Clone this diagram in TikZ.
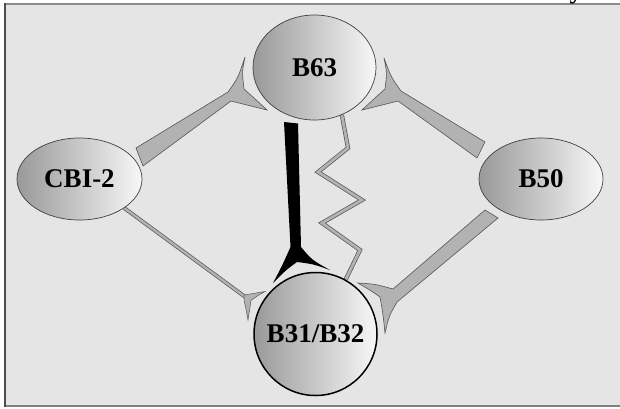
\documentclass[tikz,border=0pt]{standalone}
\usepackage{fontspec}
\setmainfont{Liberation Serif}
\usetikzlibrary{shapes.geometric,backgrounds}
\definecolor{panel}{RGB}{229,229,229}
\definecolor{synfill}{RGB}{178,178,178}
\definecolor{synedge}{RGB}{85,85,85}
\tikzset{
  cell/.style={ellipse, draw=black!75, line width=0.7pt,
    left color=black!40, right color=black!3,
    font=\fontsize{27}{30}\selectfont\bfseries, inner sep=0pt},
  synapse/.style={fill=synfill, draw=synedge, line width=0.6pt, line join=miter},
  thinlink/.style={draw=synedge, line width=0.7pt, double=synfill, double distance=2.4pt},
}
\begin{document}
\begin{tikzpicture}[x=1pt, y=-1pt]
\useasboundingbox (0,0) rectangle (620,408);

% cells
\node[cell, minimum width=123pt, minimum height=105pt] (B63) at (314.5,67.5) {B63};
\node[cell, minimum width=125pt, minimum height=82pt] (CBI) at (79.5,179) {CBI-2};
\node[cell, minimum width=124pt, minimum height=82pt] (B50) at (541,179) {B50};
\node[cell, circle, draw=black, line width=1.5pt, minimum size=123pt] (B31) at (315.5,334) {B31/B32};

\begin{scope}[on background layer]
  % panel with its frame
  \fill[panel] (5,4) rectangle (620,406);
  \draw[black!45, line width=1.8pt] (5,4) -- (620,4);
  \draw[black!50, line width=1.8pt] (5,406) -- (620,406);
  \draw[black!70, line width=1.8pt] (5,3) -- (5,407);
  % title, cut off by the panel edge
  \begin{scope}
    \clip (0,0) rectangle (620,3.2);
    \node[font=\fontsize{26}{30}\selectfont\bfseries, anchor=base, inner sep=0pt] (title) at (576,-2) {y};
  \end{scope}

  % CBI-2 -> B63
  \path[synapse] (136,148) -- (228,92) .. controls (238,78) .. (245,57)
    .. controls (242,72) .. (244,89) .. controls (254,98) .. (267,110)
    -- (231,101) -- (143,166) -- cycle;
  % B63 -> B50
  \path[synapse] (485,142) -- (401,91) .. controls (391,77) .. (384,58)
    .. controls (387,73) .. (385,89) .. controls (375,98) .. (362,110)
    -- (398,101) -- (477,158) -- cycle;
  % B50 -> B31/B32
  \path[synapse] (485,210) -- (393,289) .. controls (375,284) .. (358,283)
    .. controls (370,290) .. (380,297) .. controls (383,314) .. (385,333)
    .. controls (389,316) .. (397,302) -- (498,218) -- cycle;
  % CBI-2 -> B31/B32 (thin)
  \draw[thinlink] (CBI.-33) -- (246,297.5);
  \path[synapse, line width=0.5pt] (244,295) .. controls (254,294) .. (265,291.5)
    .. controls (257,296) .. (251,300.5) .. controls (249,310) .. (248,320)
    .. controls (246,309) .. (244,300) -- cycle;
  % B63 -> B31/B32 (strong)
  \coordinate (stemL) at (284,122);
  \coordinate (stemR) at (298,123.5);
  \fill[black] (stemL) -- (stemR) -- (301,247) .. controls (312,260) .. (330,270)
    .. controls (313,264) .. (297,262) .. controls (286,270) .. (273,283)
    .. controls (282,266) .. (290.5,247) -- cycle;
  % B63 -> B31/B32 (electrical)
  \draw[thinlink, double distance=2.8pt] (B63.-60) -- (348,148) -- (318,172) -- (362,200)
    -- (322,223) -- (360,250) -- (B31.61);
\end{scope}
\end{tikzpicture}
\end{document}
